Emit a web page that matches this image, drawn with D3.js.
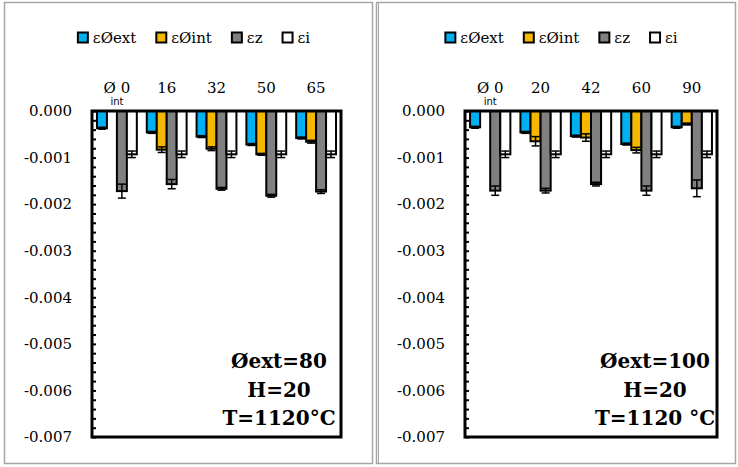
<!DOCTYPE html>
<style>
body { margin: 0; background: #fff; }
svg { display: block; }
</style>
<svg width="738" height="467"></svg>
<script src="https://d3js.org/d3.v7.min.js"></script>
<script>

// data
var seriesNames = ["εØext", "εØint", "εz", "εi"];
var colors = ["#00b0f0", "#f5b800", "#808080", "#ffffff"];
var yTicks = [0, -0.001, -0.002, -0.003, -0.004, -0.005, -0.006, -0.007];

var catsA = ["Ø 0", "16", "32", "50", "65"];
var extA = [-0.00037, -0.00046, -0.00055, -0.00072, -0.00058];
var intA = [0, -0.00083, -0.00081, -0.00093, -0.00066];
var zA = [-0.00172, -0.00157, -0.00167, -0.00182, -0.00173];
var iA = [-0.00093, -0.00093, -0.00093, -0.00093, -0.00093];
var extErrA = [0.00002, 0.00002, 0.00002, 0.00002, 0.00002];
var intErrA = [0, 0.00006, 0.00004, 0.00002, 0.00003];
var zErrA = [0.00015, 0.0001, 0.00003, 0.00003, 0.00004];
var iErrA = [0.00007, 0.00007, 0.00007, 0.00007, 0.00007];
var noteA = ["Øext=80", "H=20", "T=1120°C"];

var catsB = ["Ø 0", "20", "42", "60", "90"];
var extB = [-0.00035, -0.00046, -0.00054, -0.00071, -0.00035];
var intB = [0, -0.00065, -0.00057, -0.00084, -0.00028];
var zB = [-0.00171, -0.00171, -0.00157, -0.00171, -0.00166];
var iB = [-0.00093, -0.00093, -0.00093, -0.00093, -0.00093];
var extErrB = [0.00002, 0.00002, 0.00002, 0.00002, 0.00002];
var intErrB = [0, 0.0001, 0.00008, 0.00006, 0.00002];
var zErrB = [0.0001, 0.00005, 0.00004, 0.0001, 0.00018];
var iErrB = [0.00007, 0.00007, 0.00007, 0.00007, 0.00007];
var noteB = ["Øext=100", "H=20", "T=1120 °C"];

var svg = d3.select("svg");
var serif = "DejaVu Serif";

function panel(box, plot, cats, vals, errs, note) {
  // grey frame of the panel
  svg.append("rect")
      .attr("x", box.x0 + 0.5).attr("y", 2.5)
      .attr("width", box.x1 - box.x0).attr("height", 461)
      .attr("fill", "none").attr("stroke", "#a6a6a6").attr("stroke-width", 1.5);
  if (box.double) {
    svg.append("line")
        .attr("x1", box.x0 + 2.5).attr("x2", box.x0 + 2.5)
        .attr("y1", 2.5).attr("y2", 463.5)
        .attr("stroke", "#a6a6a6").attr("stroke-width", 1);
  }

  var x0 = d3.scaleBand().domain(cats).range([plot.left, plot.right])
      .paddingInner(0.2).paddingOuter(0.1);
  var x1 = d3.scaleBand().domain(seriesNames).range([0, x0.bandwidth()]);
  var y = d3.scaleLinear().domain([-0.007, 0]).range([437, 111]);

  var rows = [];
  cats.forEach(function(c, ci) {
    seriesNames.forEach(function(s, si) {
      rows.push({cat: c, key: s, si: si, value: vals[si][ci], err: errs[si][ci]});
    });
  });

  var g = svg.append("g");

  g.selectAll("rect.bar")
    .data(rows.filter(function(d) { return d.value !== 0; }))
    .enter().append("rect")
      .attr("class", "bar")
      .attr("x", function(d) { return x0(d.cat) + x1(d.key); })
      .attr("y", y(0))
      .attr("width", x1.bandwidth())
      .attr("height", function(d) { return y(d.value) - y(0); })
      .attr("fill", function(d) { return colors[d.si]; })
      .attr("stroke", "#000")
      .attr("stroke-width", 2);

  // error bars
  var eb = g.selectAll("g.err")
    .data(rows.filter(function(d) { return d.value !== 0; }))
    .enter().append("g")
      .attr("transform", function(d) {
        return "translate(" + (x0(d.cat) + x1(d.key) + x1.bandwidth() / 2) + ",0)";
      })
      .attr("stroke", "#000").attr("stroke-width", 1.5);
  eb.append("line")
      .attr("y1", function(d) { return y(d.value + d.err); })
      .attr("y2", function(d) { return y(d.value - d.err); });
  eb.append("line").attr("x1", -4).attr("x2", 4)
      .attr("y1", function(d) { return y(d.value + d.err); })
      .attr("y2", function(d) { return y(d.value + d.err); });
  eb.append("line").attr("x1", -4).attr("x2", 4)
      .attr("y1", function(d) { return y(d.value - d.err); })
      .attr("y2", function(d) { return y(d.value - d.err); });

  // minor ticks inside the left edge
  var minor = d3.range(0, 36).map(function(i) { return -i * 0.0002; });
  g.append("g")
      .attr("transform", "translate(" + plot.left + ",0)")
      .call(d3.axisRight(y).tickValues(minor).tickSize(4).tickFormat(""))
      .call(function(a) { a.select(".domain").remove(); a.selectAll("line").attr("stroke-width", 2); });

  // y labels
  g.append("g")
      .attr("transform", "translate(" + plot.left + ",0)")
      .call(d3.axisLeft(y).tickValues(yTicks).tickSize(0).tickPadding(20)
        .tickFormat(function(d) { return d.toFixed(3); }))
      .call(function(a) {
        a.select(".domain").remove();
        a.selectAll("text").attr("font-family", serif).attr("font-size", 15).attr("fill", "#000");
      });

  // category labels at top
  g.append("g")
      .attr("transform", "translate(0,111)")
      .call(d3.axisTop(x0).tickSize(0).tickPadding(18))
      .call(function(a) {
        a.select(".domain").remove();
        a.selectAll("text").attr("font-family", serif).attr("font-size", 15).attr("fill", "#000");
      });
  g.append("text")
      .attr("x", x0(cats[0]) + x0.bandwidth() / 2)
      .attr("y", 105)
      .attr("text-anchor", "middle")
      .attr("font-family", "DejaVu Sans").attr("font-size", 10)
      .text("int");

  // plot frame
  g.append("rect")
      .attr("x", plot.left).attr("y", 111)
      .attr("width", plot.right - plot.left).attr("height", 326)
      .attr("fill", "none").attr("stroke", "#000").attr("stroke-width", 3);

  // note
  g.append("g").selectAll("text")
    .data(note)
    .enter().append("text")
      .attr("x", plot.right - 62)
      .attr("y", function(d, i) { return [368, 397, 425][i]; })
      .attr("text-anchor", "middle")
      .attr("font-family", serif).attr("font-weight", "bold").attr("font-size", 20)
      .text(function(d) { return d; });

  // legend
  var lg = svg.append("g").attr("font-family", serif).attr("font-size", 15);
  var items = lg.selectAll("g").data(seriesNames).enter().append("g");
  items.append("rect")
      .attr("y", 32.5).attr("width", 10).attr("height", 10)
      .attr("fill", function(d, i) { return colors[i]; })
      .attr("stroke", "#000").attr("stroke-width", 2);
  items.append("text")
      .attr("x", 15).attr("y", 43)
      .text(function(d) { return d; });
  var gap = 20, xpos = 0, offs = [];
  items.each(function() {
    offs.push(xpos);
    xpos += 15 + d3.select(this).select("text").node().getComputedTextLength() + gap;
  });
  var total = xpos - gap;
  var start = (box.x0 + box.x1) / 2 + 6 - total / 2;
  items.attr("transform", function(d, i) { return "translate(" + (start + offs[i]) + ",0)"; });
}

panel({x0: 4, x1: 372}, {left: 92, right: 341}, catsA,
  [extA, intA, zA, iA], [extErrA, intErrA, zErrA, iErrA], noteA);
panel({x0: 376, x1: 735, double: true}, {left: 465, right: 717}, catsB,
  [extB, intB, zB, iB], [extErrB, intErrB, zErrB, iErrB], noteB);

</script>
